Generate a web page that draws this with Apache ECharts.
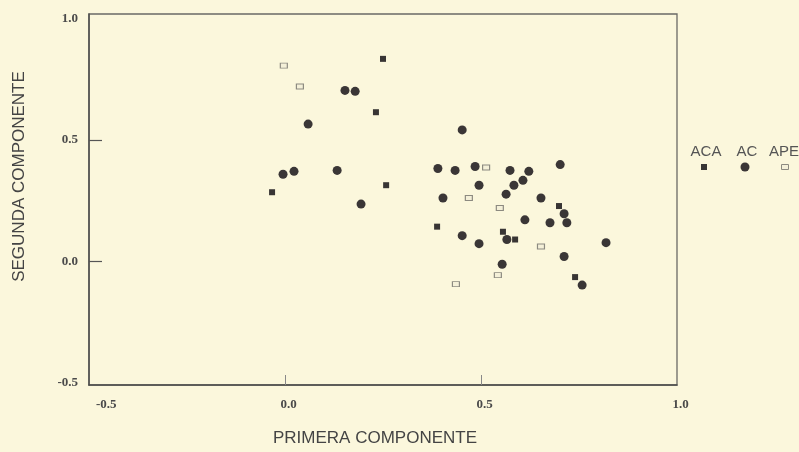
<!DOCTYPE html>
<html>
<head>
<meta charset="utf-8">
<script src="https://cdn.jsdelivr.net/npm/echarts@6/dist/echarts.min.js"></script>
<style>
html,body{margin:0;padding:0;background:#fbf7dc;}
#c{width:799px;height:452px;}
</style>
</head>
<body>
<div id="c"></div>
<script>
// Tick labels
const xTickLabels = [-0.5, 0.0, 0.5, 1.0];
const yTickLabels = [-0.5, 0.0, 0.5, 1.0];
const innerTicks = [0.0, 0.5];

// Series names
const seriesNames = ['ACA', 'AC', 'APE'];

// ACA (small filled squares)
const acaX = [0.250, 0.232, -0.033, 0.258, 0.388, 0.556, 0.587, 0.699, 0.740];
const acaY = [0.835, 0.615, 0.285, 0.314, 0.143, 0.122, 0.090, 0.228, -0.065];

// AC (filled circles)
const acX = [0.153, 0.179, 0.059, 0.452, -0.005, 0.023, 0.133, 0.194, 0.390, 0.434,
             0.485, 0.574, 0.622, 0.607, 0.584, 0.702, 0.495, 0.403, 0.564, 0.653,
             0.712, 0.719, 0.676, 0.612, 0.452, 0.495, 0.566, 0.819, 0.712, 0.554, 0.758];
const acY = [0.705, 0.701, 0.566, 0.542, 0.359, 0.371, 0.375, 0.236, 0.383, 0.375,
             0.391, 0.375, 0.371, 0.334, 0.314, 0.399, 0.314, 0.261, 0.277, 0.261,
             0.196, 0.159, 0.159, 0.171, 0.106, 0.073, 0.090, 0.077, 0.020, -0.012, -0.098];

// APE (open squares)
const apeX = [-0.003, 0.038, 0.513, 0.469, 0.548, 0.653, 0.543, 0.436];
const apeY = [0.807, 0.721, 0.387, 0.261, 0.220, 0.061, -0.057, -0.094];

const zip = (xs, ys) => xs.map((x, i) => [x, ys[i]]);

const axisCol = '#4e4e4c';
const labelFont = {fontFamily: 'Liberation Serif', fontWeight: 'bold', fontSize: 13, color: '#4a4a4a'};

const chart = echarts.init(document.getElementById('c'), null, {renderer: 'canvas'});
chart.setOption({
  backgroundColor: '#fbf7dc',
  animation: false,
  grid: {left: 89, right: 122, top: 14, bottom: 63, show: true, borderColor: '#6a6a66', borderWidth: 1.3, backgroundColor: 'transparent'},
  xAxis: {
    type: 'value', min: -0.5, max: 1.0,
    axisLine: {show: true, onZero: false, lineStyle: {color: axisCol, width: 1.5}},
    axisTick: {show: true, inside: true, length: 10, customValues: innerTicks, lineStyle: {color: '#888'}},
    axisLabel: Object.assign({customValues: xTickLabels, margin: 13, formatter: v => v.toFixed(1), alignMinLabel: 'left', padding: [0,0,0,7]}, labelFont),
    splitLine: {show: false},
    name: 'PRIMERA COMPONENTE', nameLocation: 'middle', nameGap: 45,
    nameTextStyle: {fontFamily: 'Liberation Sans', fontSize: 17, color: '#444', padding: [0, 16, 0, 0]}
  },
  yAxis: {
    type: 'value', min: -0.51, max: 1.02,
    axisLine: {show: true, onZero: false, lineStyle: {color: axisCol, width: 1.5}},
    axisTick: {show: true, inside: true, length: 13, customValues: innerTicks, lineStyle: {color: '#555', width: 1.2}},
    axisLabel: Object.assign({customValues: yTickLabels, margin: 11, formatter: v => v.toFixed(1)}, labelFont),
    splitLine: {show: false},
    name: 'SEGUNDA COMPONENTE', nameLocation: 'middle', nameGap: 61, nameRotate: 90,
    nameTextStyle: {fontFamily: 'Liberation Sans', fontSize: 17, color: '#444', padding: [0, 0, 0, 46]}
  },
  series: [
    {name: seriesNames[1], type: 'scatter', data: zip(acX, acY), symbol: 'circle', symbolSize: 9,
     itemStyle: {color: '#3a3636', opacity: 1}},
    {name: seriesNames[0], type: 'scatter', data: zip(acaX, acaY), symbol: 'rect', symbolSize: 6,
     itemStyle: {color: '#383534', opacity: 1}},
    {name: seriesNames[2], type: 'scatter', data: zip(apeX, apeY), symbol: 'rect', symbolSize: [7, 5],
     itemStyle: {color: '#f4f0d8', borderColor: '#8c8a80', borderWidth: 1, opacity: 1}}
  ],
  graphic: [
    {type: 'text', x: 706, y: 152, style: {text: seriesNames[0], x: 0, y: 0, align: 'center', verticalAlign: 'middle', font: '15px Liberation Sans', fill: '#555'}},
    {type: 'text', x: 747, y: 152, style: {text: seriesNames[1], x: 0, y: 0, align: 'center', verticalAlign: 'middle', font: '15px Liberation Sans', fill: '#555'}},
    {type: 'text', x: 784, y: 152, style: {text: seriesNames[2], x: 0, y: 0, align: 'center', verticalAlign: 'middle', font: '15px Liberation Sans', fill: '#555'}},
    {type: 'rect', shape: {x: 701, y: 164, width: 6, height: 6}, style: {fill: '#383534'}},
    {type: 'circle', shape: {cx: 745, cy: 167, r: 4.5}, style: {fill: '#3a3636'}},
    {type: 'rect', shape: {x: 781.5, y: 164.5, width: 7, height: 5}, style: {fill: '#f4f0d8', stroke: '#8c8a80', lineWidth: 1}}
  ]
});
</script>
</body>
</html>
